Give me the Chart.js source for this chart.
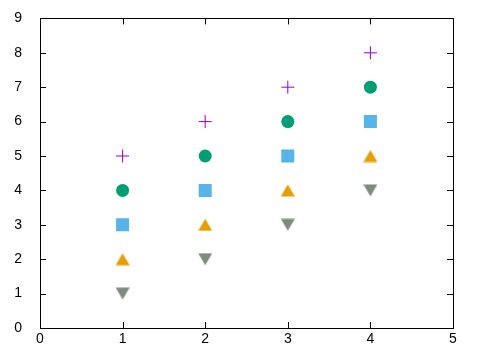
<!DOCTYPE html>
<html><head><meta charset="utf-8">
<script src="https://cdn.jsdelivr.net/npm/chart.js@4"></script>
<style>html,body{margin:0;padding:0;background:#fff}#wrap{width:480px;height:360px}</style>
</head><body><div id="wrap"><canvas id="c" width="480" height="360"></canvas></div>
<script>
const xValues = [1, 2, 3, 4];
const plusY = [5, 6, 7, 8];
const circleY = [4, 5, 6, 7];
const squareY = [3, 4, 5, 6];
const triUpY = [2, 3, 4, 5];
const triDownY = [1, 2, 3, 4];
const xTicks = [0, 1, 2, 3, 4, 5];
const yTicks = [0, 1, 2, 3, 4, 5, 6, 7, 8, 9];

function triCanvas(color, down) {
  const c = document.createElement('canvas');
  c.width = 14; c.height = 13;
  const g = c.getContext('2d');
  g.fillStyle = color;
  g.beginPath();
  if (down) { g.moveTo(0, 0.5); g.lineTo(14, 0.5); g.lineTo(7, 12.5); }
  else { g.moveTo(7, 0.5); g.lineTo(14, 12.5); g.lineTo(0, 12.5); }
  g.closePath(); g.fill();
  return c;
}
const pts = ys => xValues.map((x, i) => ({x: x, y: ys[i]}));

const frame = {
  id: 'frame',
  afterDraw(chart) {
    const {ctx, chartArea: a, scales: {x, y}} = chart;
    ctx.save();
    ctx.strokeStyle = '#000'; ctx.lineWidth = 1;
    ctx.beginPath();
    const L = 6;
    xTicks.forEach(v => {
      if (v === xTicks[0] || v === xTicks[xTicks.length - 1]) return;
      const px = Math.round(x.getPixelForValue(v)) + 0.5;
      ctx.moveTo(px, a.bottom); ctx.lineTo(px, a.bottom - L);
      ctx.moveTo(px, a.top); ctx.lineTo(px, a.top + L);
    });
    yTicks.forEach(v => {
      if (v === yTicks[0] || v === yTicks[yTicks.length - 1]) return;
      const py = Math.round(y.getPixelForValue(v)) + 0.5;
      ctx.moveTo(a.left, py); ctx.lineTo(a.left + L, py);
      ctx.moveTo(a.right, py); ctx.lineTo(a.right - L, py);
    });
    ctx.stroke();
    ctx.strokeRect(Math.round(a.left) + 0.5, Math.round(a.top) + 0.5, Math.round(a.right - a.left), Math.round(a.bottom - a.top));
    ctx.restore();
  }
};

new Chart(document.getElementById('c'), {
  type: 'scatter',
  data: {
    datasets: [
      {data: pts(plusY), pointStyle: 'cross', radius: 6.5, borderColor: '#9400d3', borderWidth: 1, backgroundColor: '#9400d3'},
      {data: pts(circleY), pointStyle: 'circle', radius: 6.5, borderWidth: 0, backgroundColor: '#009e73'},
      {data: pts(squareY), pointStyle: 'rect', radius: 9.2, borderWidth: 0, backgroundColor: '#56b4e9'},
      {data: pts(triUpY), pointStyle: triCanvas('#e69f00', false), radius: 7, borderWidth: 0},
      {data: pts(triDownY), pointStyle: triCanvas('#808a80', true), radius: 7, borderWidth: 0}
    ]
  },
  options: {
    responsive: false, animation: false,
    layout: {padding: {left: 0, right: 27, top: 16, bottom: 0}},
    plugins: {legend: {display: false}, tooltip: {enabled: false}},
    scales: {
      x: {
        type: 'linear', min: 0, max: 5,
        afterFit(s) { s.height = 32; },
        afterBuildTicks(s) { s.ticks = xTicks.map(v => ({value: v})); },
        grid: {display: false}, border: {display: false},
        ticks: {color: '#000', padding: -5, font: {family: 'Liberation Sans', size: 14}, maxRotation: 0}
      },
      y: {
        type: 'linear', min: 0, max: 9,
        afterFit(s) { s.width = 40; },
        afterBuildTicks(s) { s.ticks = yTicks.map(v => ({value: v})); },
        grid: {display: false}, border: {display: false},
        ticks: {color: '#000', padding: 10, font: {family: 'Liberation Sans', size: 14}}
      }
    }
  },
  plugins: [frame]
});
</script></body></html>
